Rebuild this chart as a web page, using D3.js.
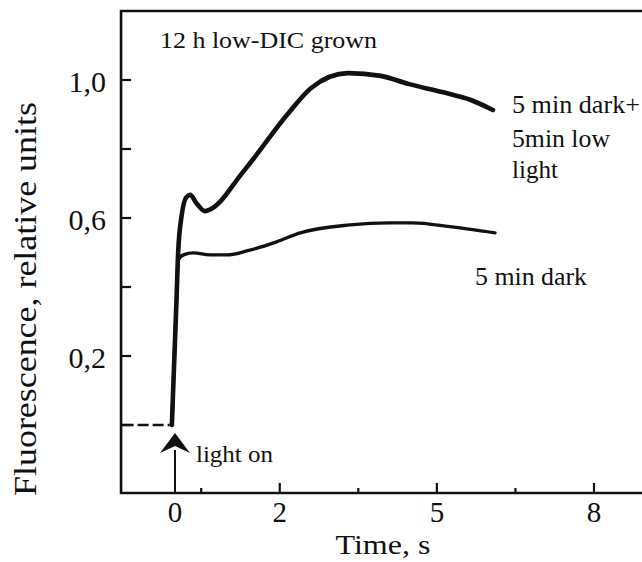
<!DOCTYPE html>
<html>
<head>
<meta charset="utf-8">
<script src="https://cdn.jsdelivr.net/npm/d3@7"></script>
<style>
  body { margin: 0; background: #fff; }
  svg { display: block; font-family: "Liberation Serif", "DejaVu Serif", serif; }
</style>
</head>
<body>
<svg id="chart" width="642" height="562"></svg>
<script>
// time in s, fluorescence in relative units
const lowLightT = [-0.06, 0.03, 0.06, 0.13, 0.22, 0.29, 0.41, 0.57, 0.72, 0.89, 1.18, 1.51, 2.14, 2.6, 3.3, 3.93, 4.47, 5.1, 5.65, 6.07];
const lowLightF = [0, 0.368, 0.5, 0.61, 0.661, 0.667, 0.643, 0.62, 0.629, 0.652, 0.71, 0.774, 0.899, 0.977, 1.02, 1.012, 0.988, 0.965, 0.942, 0.913];
const darkT = [-0.06, 0.03, 0.06, 0.16, 0.35, 0.67, 0.99, 1.43, 1.94, 2.39, 3.34, 4.08, 4.54, 5.25, 6.11];
const darkF = [0, 0.368, 0.478, 0.493, 0.499, 0.493, 0.493, 0.507, 0.531, 0.557, 0.58, 0.586, 0.586, 0.575, 0.557];
const baselineT = [-1.0, -0.1];
const baselineF = [0, 0];

const yTicks = [0, 0.2, 0.4, 0.6, 0.8, 1.0];
const yTickLabels = { 0.2: '0,2', 0.6: '0,6', 1.0: '1,0' };
const xMajorTicks = [2, 5, 8];
const xMinorTicks = [0.5, 3.5, 6.5];
const xLabels = [0, 2, 5, 8];

const svg = d3.select('#chart');
const x = d3.scaleLinear().domain([0, 8]).range([175, 594]);
const y = d3.scaleLinear().domain([0, 1]).range([425, 80]);
const frameL = x(-1.03), frameR = 642;
const frameT = y(1.2), frameB = y(-0.197);

const ink = '#111';

// frame: left axis, top border, bottom axis
svg.append('path')
    .attr('d', `M${frameR},${frameT}H${frameL}V${frameB}H${frameR}`)
    .attr('fill', 'none')
    .attr('stroke', ink)
    .attr('stroke-width', 2.6);

// y ticks pointing inward
svg.append('g').selectAll('line')
  .data(yTicks)
  .join('line')
    .attr('x1', frameL).attr('x2', frameL + 10)
    .attr('y1', (d) => y(d)).attr('y2', (d) => y(d))
    .attr('stroke', ink).attr('stroke-width', 2.2);

svg.append('g').selectAll('text')
  .data(yTicks.filter((d) => yTickLabels[d]))
  .join('text')
    .attr('x', 106)
    .attr('y', (d) => y(d) + 12)
    .attr('text-anchor', 'end')
    .attr('font-size', 30)
    .attr('fill', ink)
    .text((d) => yTickLabels[d]);

// x ticks pointing inward
svg.append('g').selectAll('line')
  .data(xMajorTicks.map((d) => ({ v: d, len: 10 })).concat(xMinorTicks.map((d) => ({ v: d, len: 5 }))))
  .join('line')
    .attr('x1', (d) => x(d.v)).attr('x2', (d) => x(d.v))
    .attr('y1', frameB).attr('y2', (d) => frameB - d.len)
    .attr('stroke', ink).attr('stroke-width', 2.2);

svg.append('g').selectAll('text')
  .data(xLabels)
  .join('text')
    .attr('x', (d) => x(d))
    .attr('y', 522)
    .attr('text-anchor', 'middle')
    .attr('font-size', 29)
    .attr('fill', ink)
    .text((d) => d);

// axis titles
svg.append('text')
    .attr('x', 383).attr('y', 554)
    .attr('text-anchor', 'middle')
    .attr('font-size', 27)
    .attr('textLength', 95)
    .attr('lengthAdjust', 'spacingAndGlyphs')
    .attr('fill', ink)
    .text('Time, s');

svg.append('text')
    .attr('transform', 'translate(36, 299) rotate(-90)')
    .attr('text-anchor', 'middle')
    .attr('font-size', 31)
    .attr('textLength', 394)
    .attr('lengthAdjust', 'spacingAndGlyphs')
    .attr('fill', ink)
    .text('Fluorescence, relative units');

// curves
const line = d3.line()
    .x((d) => x(d[0]))
    .y((d) => y(d[1]))
    .curve(d3.curveMonotoneX);

svg.append('path')
    .datum(d3.zip(baselineT, baselineF))
    .attr('d', line)
    .attr('fill', 'none')
    .attr('stroke', ink)
    .attr('stroke-width', 2.6)
    .attr('stroke-dasharray', '11 4');

svg.append('path')
    .datum(d3.zip(darkT, darkF))
    .attr('d', line)
    .attr('fill', 'none')
    .attr('stroke', ink)
    .attr('stroke-width', 3.4)
    .attr('stroke-linecap', 'round');

svg.append('path')
    .datum(d3.zip(lowLightT, lowLightF))
    .attr('d', line)
    .attr('fill', 'none')
    .attr('stroke', ink)
    .attr('stroke-width', 4.6)
    .attr('stroke-linecap', 'round');

// "light on" arrow at t = 0
svg.append('line')
    .attr('x1', x(0)).attr('x2', x(0))
    .attr('y1', frameB).attr('y2', 450)
    .attr('stroke', ink).attr('stroke-width', 2);
svg.append('path')
    .attr('d', `M${x(0)},433L${x(0) - 15},453L${x(0)},446L${x(0) + 15},453Z`)
    .attr('fill', ink);

const labels = [
  { text: 'light on', x: 196, y: 462, size: 24, w: 77 },
  { text: '12 h low-DIC grown', x: 160, y: 48, size: 23, w: 217 },
  { text: '5 min dark+', x: 512, y: 113, size: 25, w: 128 },
  { text: '5min low', x: 512, y: 147, size: 25, w: 98 },
  { text: 'light', x: 512, y: 178, size: 25, w: 46 },
  { text: '5 min dark', x: 475, y: 285, size: 25, w: 112 },
];
svg.append('g').selectAll('text')
  .data(labels)
  .join('text')
    .attr('x', (d) => d.x)
    .attr('y', (d) => d.y)
    .attr('font-size', (d) => d.size)
    .attr('textLength', (d) => d.w)
    .attr('lengthAdjust', 'spacingAndGlyphs')
    .attr('fill', ink)
    .text((d) => d.text);
</script>
</body>
</html>
